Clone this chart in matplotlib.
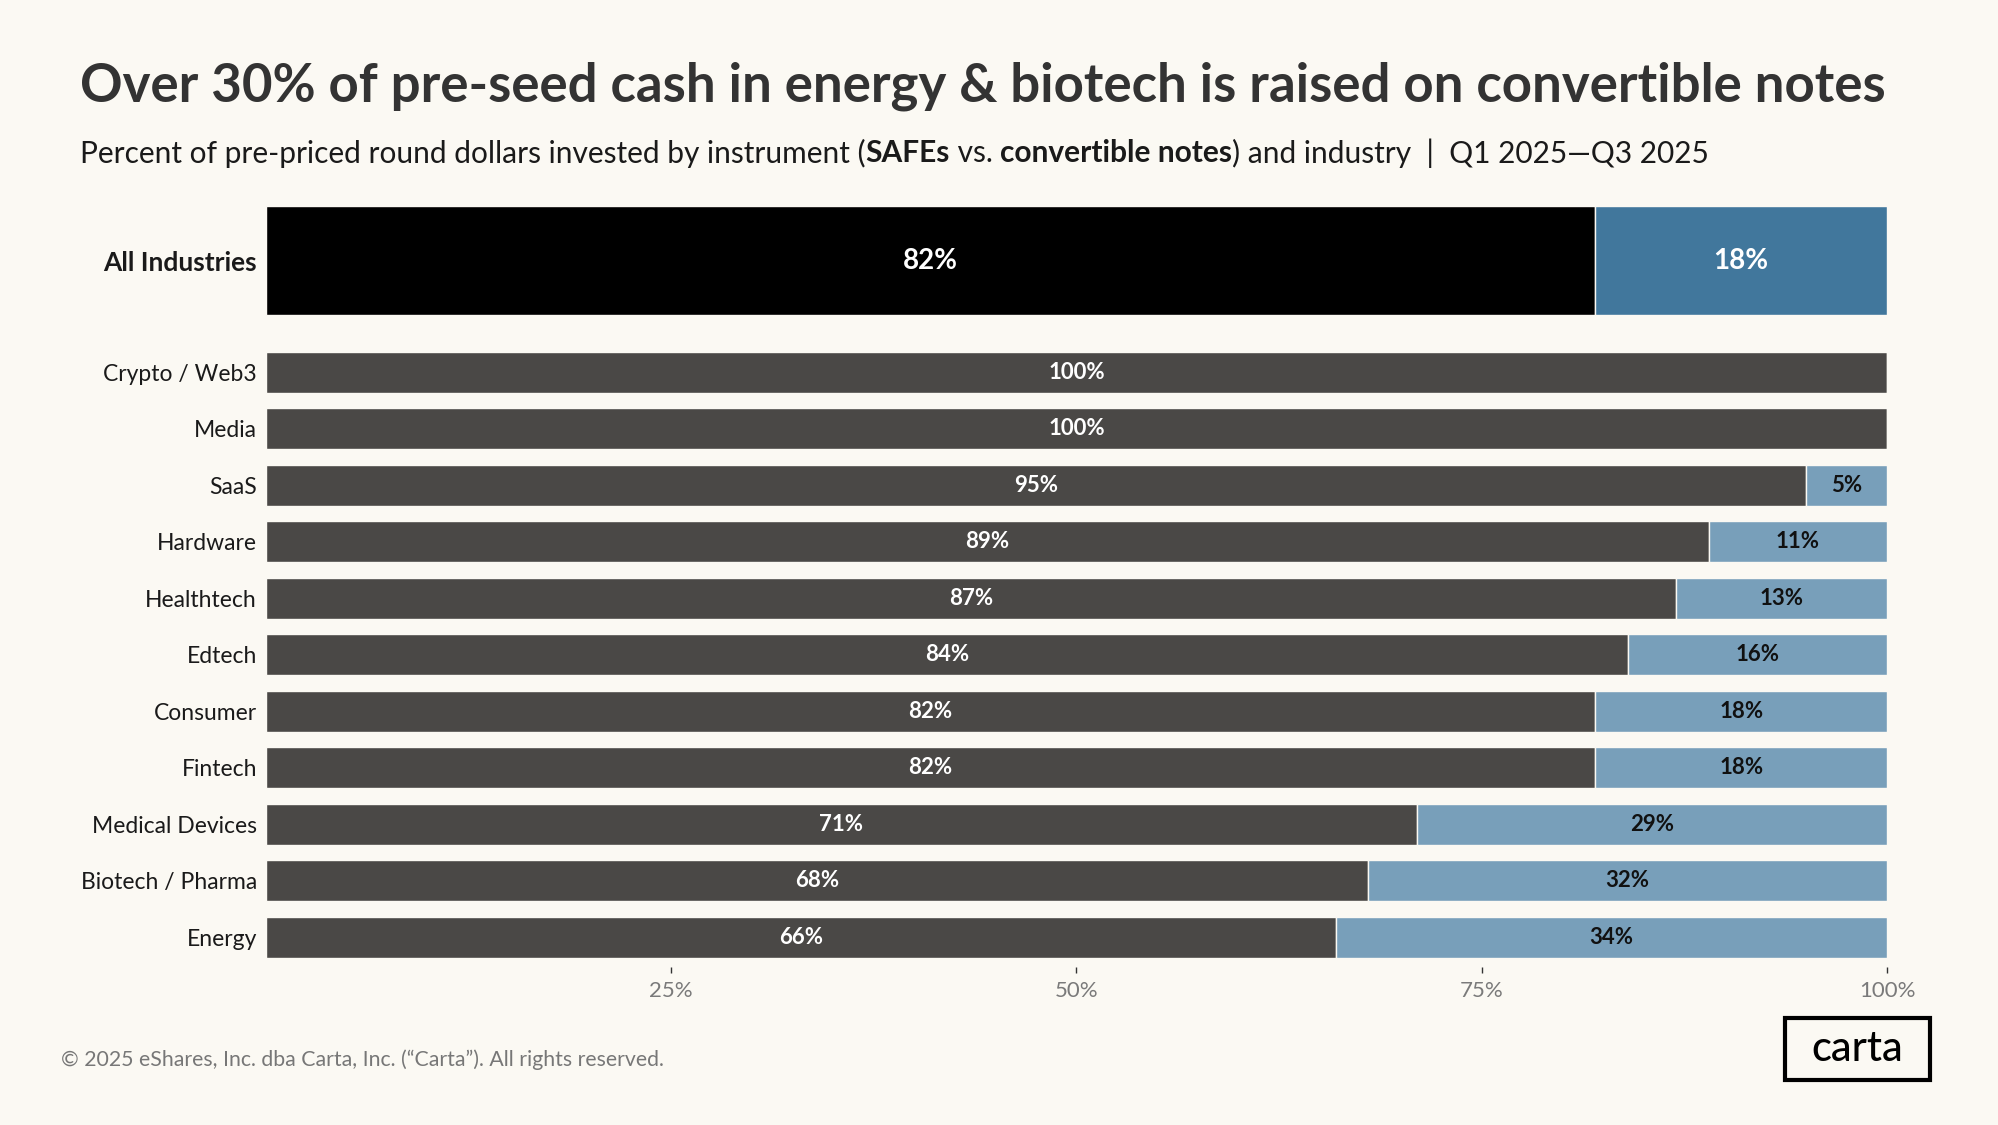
import matplotlib
matplotlib.use('Agg')
import matplotlib.pyplot as plt
from matplotlib.patches import Rectangle

# chart data
categories = ['All Industries', 'Crypto / Web3', 'Media', 'SaaS', 'Hardware', 'Healthtech',
              'Edtech', 'Consumer', 'Fintech', 'Medical Devices', 'Biotech / Pharma', 'Energy']
safes = [82, 100, 100, 95, 89, 87, 84, 82, 82, 71, 68, 66]
notes = [18, 0, 0, 5, 11, 13, 16, 18, 18, 29, 32, 34]
tick_vals = [25, 50, 75, 100]
tick_labels = ['25%', '50%', '75%', '100%']

title = 'Over 30% of pre-seed cash in energy & biotech is raised on convertible notes'
subtitle = [('Percent of pre-priced round dollars invested by instrument (', 'normal'),
            ('SAFEs', 'bold'), (' vs. ', 'normal'), ('convertible notes', 'bold'),
            (') and industry  |  Q1 2025\u2014Q3 2025', 'normal')]
footer = '\u00a9 2025 eShares, Inc. dba Carta, Inc. (\u201cCarta\u201d). All rights reserved.'

BG = '#FBF9F3'
plt.rcParams['font.family'] = ['Lato', 'DejaVu Sans']

W, H = 1999, 1125
fig = plt.figure(figsize=(W / 100, H / 100), dpi=100, facecolor=BG)

# axes placed to match the reference bar area (pixels)
ax = fig.add_axes([266 / W, 1 - 958 / H, 1621 / W, 752 / H])
ax.set_facecolor(BG)

# first row (All Industries) is a taller bar sitting above the rest
ypos = [-1.98] + list(range(len(categories) - 1))
heights = [1.93] + [0.726] * (len(categories) - 1)
safe_cols = ['#000000'] + ['#4A4846'] * (len(categories) - 1)
note_cols = ['#41779C'] + ['#789FBA'] * (len(categories) - 1)

ax.barh(ypos, safes, height=heights, color=safe_cols, edgecolor=BG, linewidth=1)
ax.barh(ypos, notes, left=safes, height=heights, color=note_cols, edgecolor=BG, linewidth=1)

for i, (y, s, n) in enumerate(zip(ypos, safes, notes)):
    big = i == 0
    fs = 20 if big else 16
    ax.text(s / 2, y, f'{s}%', ha='center', va='center', color='white',
            fontsize=fs, fontweight='bold')
    if n > 0:
        ax.text(s + n / 2, y, f'{n}%', ha='center', va='center',
                color='white' if big else '#111111', fontsize=fs, fontweight='bold')

ax.set_xlim(0, 100)
ax.set_ylim(10.363, -2.945)
ax.set_yticks(ypos)
ax.set_yticklabels(categories)
for i, lab in enumerate(ax.get_yticklabels()):
    lab.set_fontsize(16.5)
    lab.set_color('#1a1a1a')
    if i == 0:
        lab.set_fontweight('bold')
        lab.set_fontsize(19)
ax.tick_params(axis='y', length=0, pad=6.5)

ax.set_xticks(tick_vals)
ax.set_xticklabels(tick_labels)
ax.tick_params(axis='x', length=4.3, width=1, color='#333333', pad=6,
               labelsize=16, labelcolor='#7a7a7a')
ax.spines['bottom'].set_position(('outward', 6.5))
for sp in ax.spines.values():
    sp.set_visible(False)

# title
fig.text(80 / W, 1 - 86 / H, title, fontsize=38, fontweight='bold', color='#333333',
         va='center', ha='left')

# subtitle with bold pieces, laid out one after the other
r = fig.canvas.get_renderer()
x = 80 / W
for txt, wt in subtitle:
    t = fig.text(x, 1 - 153 / H, txt, fontsize=21.5, fontweight=wt, color='#1a1a1a',
                 va='center', ha='left')
    bb = t.get_window_extent(renderer=r)
    x = bb.x1 / W

# footer
fig.text(61 / W, 1 - 1060 / H, footer, fontsize=15.3, color='#777777', va='center', ha='left')

# logo box
fig.patches.append(Rectangle((1785 / W, 1 - 1080 / H), 145 / W, 62 / H,
                             transform=fig.transFigure, fill=False,
                             edgecolor='black', linewidth=3))
fig.text(1857.5 / W, 1 - 1049 / H, 'carta', fontsize=30, color='black',
         ha='center', va='center', fontweight='medium')

fig.savefig('out.png', dpi=100, facecolor=BG)
